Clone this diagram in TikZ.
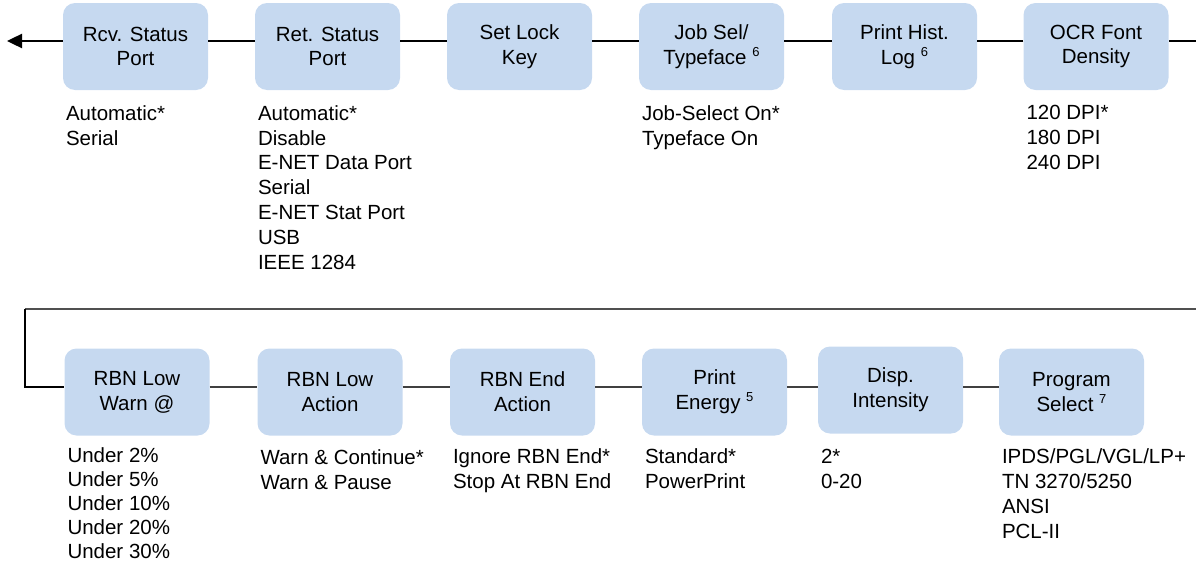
\documentclass[tikz,border=0pt]{standalone}
\usepackage{fontspec}
\setmainfont{Liberation Sans}
\usetikzlibrary{arrows.meta}
\definecolor{menublue}{RGB}{198,217,240}
\definecolor{wiregray}{RGB}{80,80,80}
\newcommand{\fnote}[1]{\raisebox{0.75ex}{\fontsize{13}{13}\selectfont #1}}
\tikzset{
  menu/.style={rectangle, rounded corners=12pt, fill=menublue, minimum width=145pt,
    minimum height=87pt, align=center, inner sep=2pt},
  opts/.style={anchor=north west, align=left, inner sep=0pt},
  topline/.style={line width=2.4pt},
  lowline/.style={line width=1.4pt, draw={rgb,255:red,64;green,64;blue,64}}
}
\begin{document}
\begin{tikzpicture}[x=1pt, y=-1pt, font=\fontsize{20.5}{24.8}\selectfont]
            \useasboundingbox (0,0) rectangle (1196,565);
            % Nodes
            \node[menu] (A) at (135.5, 46.5) {Rcv. Status\\Port};
            \node[menu] (B) at (327.5, 46.5) {Ret. Status\\Port};
            \node[menu] (C) at (519.5, 46.5) {Set Lock\\Key};
            \node[menu] (D) at (711.5, 46.5) {Job Sel/\\Typeface \fnote{6}};
            \node[menu] (E) at (904.5, 46.5) {Print Hist.\\Log \fnote{6}};
            \node[menu] (F) at (1096, 46.5) {OCR Font\\Density};

            \node[menu] (G) at (137, 392) {RBN Low\\Warn @};
            \node[menu] (H) at (330, 392) {RBN Low\\Action};
            \node[menu] (I) at (522.5, 392) {RBN End\\Action};
            \node[menu] (J) at (714.5, 392) {Print\\Energy \fnote{5}};
            \node[menu] (K) at (890.5, 390) {Disp.\\Intensity};
            \node[menu] (L) at (1071.5, 392) {Program\\Select \fnote{7}};

            % Settings
            \node[opts] (a) at ([xshift=3pt, yshift=-15pt]A.south west) {Automatic*\\Serial};
            \node[opts] (b) at ([xshift=3pt, yshift=-15pt]B.south west) {Automatic*\\Disable\\E-NET Data Port\\Serial\\E-NET Stat Port\\USB\\IEEE 1284};
            \node[opts] (d) at ([xshift=3pt, yshift=-15pt]D.south west) {Job-Select On*\\Typeface On};
            \node[opts] (f) at ([xshift=3pt, yshift=-15pt]F.south west) {120 DPI*\\180 DPI\\240 DPI};

            \node[opts, font=\fontsize{20.5}{24}\selectfont] (g) at ([xshift=3pt, yshift=-12pt]G.south west) {Under 2\%\\Under 5\%\\Under 10\%\\Under 20\%\\Under 30\%};
            \node[opts] (h) at ([xshift=3pt, yshift=-14pt]H.south west) {Warn \& Continue*\\Warn \& Pause};
            \node[opts] (i) at ([xshift=3pt, yshift=-13pt]I.south west) {Ignore RBN End*\\Stop At RBN End};
            \node[opts] (j) at ([xshift=3pt, yshift=-13pt]J.south west) {Standard*\\PowerPrint};
            \node[opts] (k) at ([xshift=3pt, yshift=-15pt]K.south west) {2*\\0-20};
            \node[opts] (l) at ([xshift=3pt, yshift=-13pt]L.south west) {IPDS/PGL/VGL/LP+\\TN 3270/5250\\ANSI\\PCL-II};

            \coordinate (out) at (7, 41);
            \coordinate (in) at (1196, 41);
            \coordinate (wrapR) at (1196, 309);
            \coordinate (wrapL) at (25, 309);
            \coordinate (wrapD) at (25, 387);

            % Edges
            \draw[topline, -{Triangle[length=15pt, width=14pt]}] ([yshift=5.5pt]A.west) -- (out);
            \draw[topline] ([yshift=5.5pt]B.west) -- ([yshift=5.5pt]A.east);
            \draw[topline] ([yshift=5.5pt]C.west) -- ([yshift=5.5pt]B.east);
            \draw[topline] ([yshift=5.5pt]D.west) -- ([yshift=5.5pt]C.east);
            \draw[topline] ([yshift=5.5pt]E.west) -- ([yshift=5.5pt]D.east);
            \draw[topline] ([yshift=5.5pt]F.west) -- ([yshift=5.5pt]E.east);
            \draw[topline] (in) -- ([yshift=5.5pt]F.east);

            \draw[lowline, line width=2pt, draw=wiregray] (wrapR) -- (wrapL);
            \draw[lowline, draw=black] (wrapL) -- (wrapD) -- (wrapD -| G.west);
            \draw[lowline] ([yshift=5pt]G.east) -- ([yshift=5pt]H.west);
            \draw[lowline] ([yshift=5pt]H.east) -- ([yshift=5pt]I.west);
            \draw[lowline] ([yshift=5pt]I.east) -- ([yshift=5pt]J.west);
            \draw[lowline] ([yshift=5pt]J.east) -- ([yshift=3pt]K.west);
            \draw[lowline] ([yshift=3pt]K.east) -- ([yshift=5pt]L.west);
        \end{tikzpicture}
\end{document}
